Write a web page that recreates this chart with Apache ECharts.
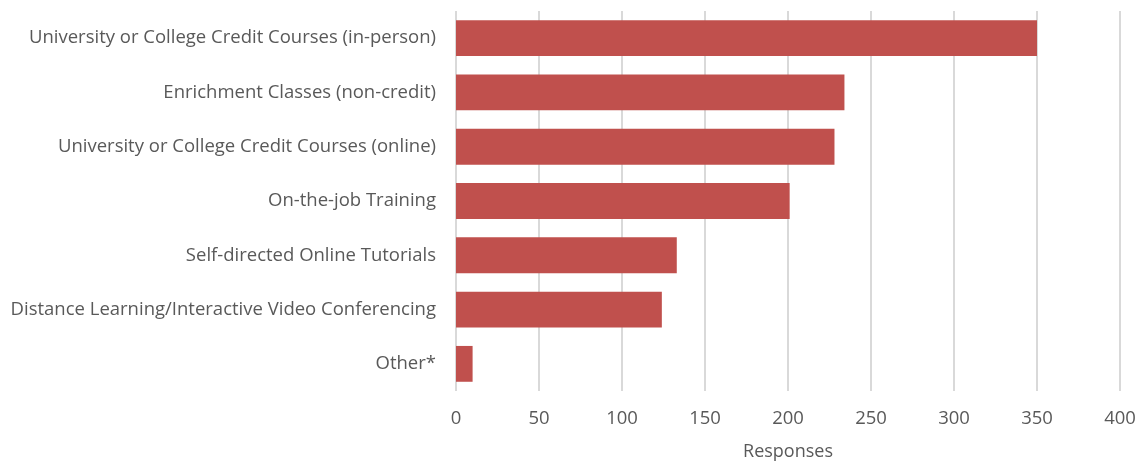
<!DOCTYPE html>
<html>
<head>
<meta charset="utf-8">
<script src="https://cdn.jsdelivr.net/npm/echarts@6/dist/echarts.min.js"></script>
<style>
  html, body { margin: 0; padding: 0; background: #fff; }
  #chart { width: 1143px; height: 466px; }
</style>
</head>
<body>
<div id="chart"></div>
<script>
const categories = [
  'University or College Credit Courses (in-person)',
  'Enrichment Classes (non-credit)',
  'University or College Credit Courses (online)',
  'On-the-job Training',
  'Self-directed Online Tutorials',
  'Distance Learning/Interactive Video Conferencing',
  'Other*'
];
const responses = [350, 234, 228, 201, 133, 124, 10];

const chart = echarts.init(document.getElementById('chart'));
const font = '"Open Sans", sans-serif';

chart.setOption({
  animation: false,
  grid: { left: 456, right: 23, top: 11, bottom: 74 },
  xAxis: {
    type: 'value',
    min: 0,
    max: 400,
    interval: 50,
    name: 'Responses',
    nameLocation: 'middle',
    nameGap: 52,
    nameTextStyle: { color: '#595959', fontSize: 18, fontFamily: font },
    axisLine: { show: false },
    axisTick: { show: false },
    axisLabel: { color: '#595959', fontSize: 18.5, fontFamily: font, margin: 18 },
    splitLine: { lineStyle: { color: '#d9d9d9', width: 2 } }
  },
  yAxis: {
    type: 'category',
    data: categories,
    inverse: true,
    axisLine: { show: false },
    axisTick: { show: false },
    axisLabel: { color: '#595959', fontSize: 18.5, fontFamily: font, margin: 20 }
  },
  series: [{
    name: 'Responses',
    type: 'bar',
    data: responses,
    barCategoryGap: '34%',
    itemStyle: { color: '#c0504d' }
  }]
});
</script>
</body>
</html>
